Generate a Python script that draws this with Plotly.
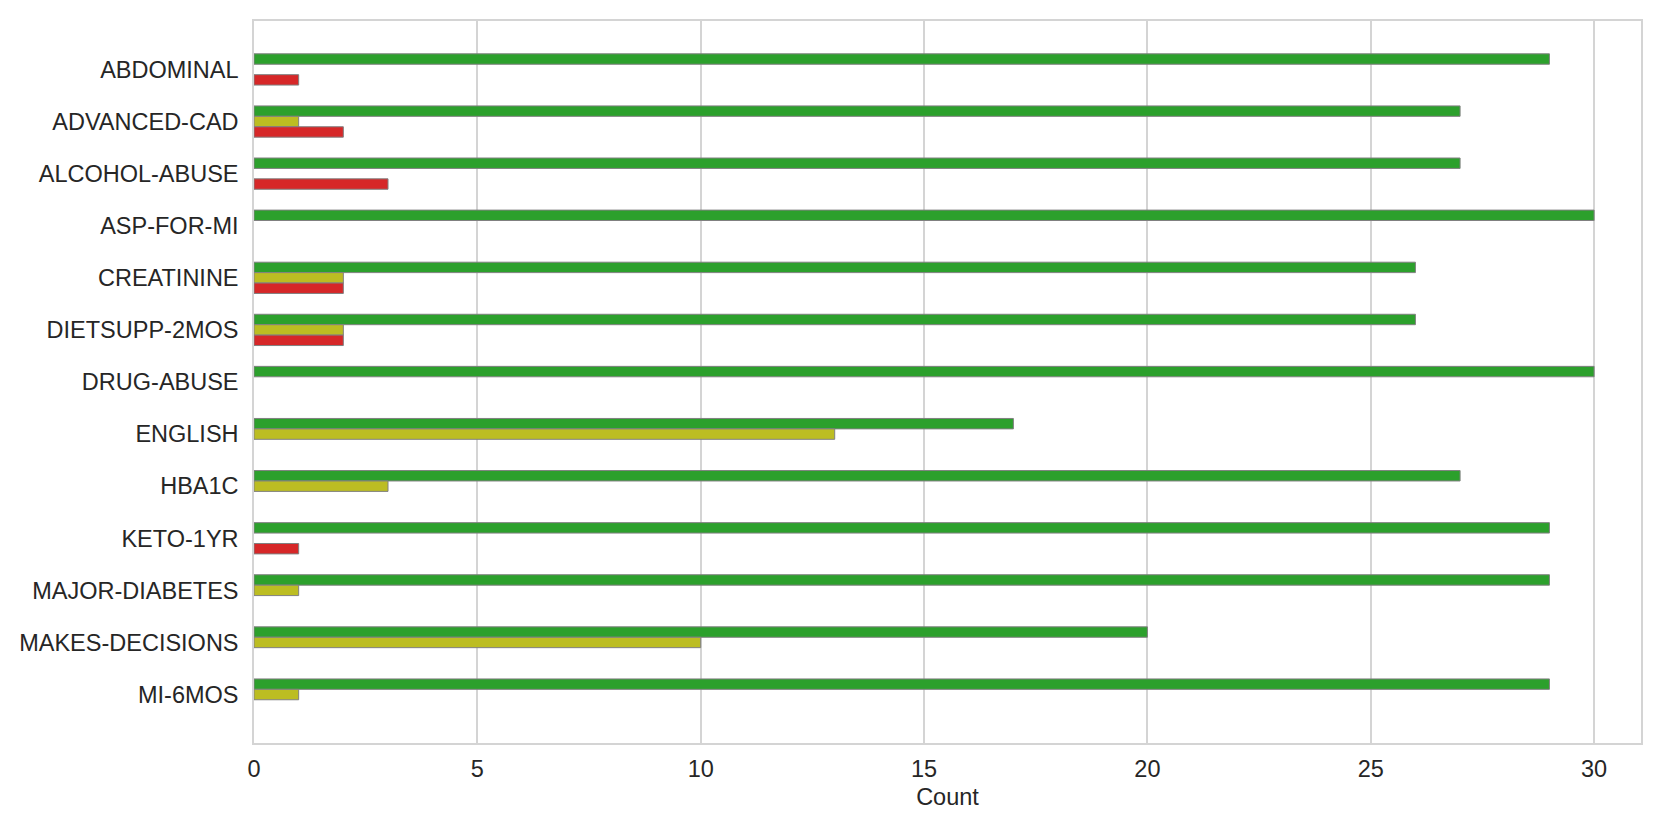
import plotly.graph_objects as go

# data
categories = ["ABDOMINAL", "ADVANCED-CAD", "ALCOHOL-ABUSE", "ASP-FOR-MI", "CREATININE",
              "DIETSUPP-2MOS", "DRUG-ABUSE", "ENGLISH", "HBA1C", "KETO-1YR",
              "MAJOR-DIABETES", "MAKES-DECISIONS", "MI-6MOS"]
green_vals = [29, 27, 27, 30, 26, 26, 30, 17, 27, 29, 29, 20, 29]
yellow_vals = [0, 1, 0, 0, 2, 2, 0, 13, 3, 0, 1, 10, 1]
red_vals = [1, 2, 3, 0, 2, 2, 0, 0, 0, 1, 0, 0, 0]

series = [
    ("green", green_vals, "#2ca02c"),
    ("yellow", yellow_vals, "#bcbd22"),
    ("red", red_vals, "#d62728"),
]

fig = go.Figure()
for name, vals, col in series:
    # no edge on empty bars (matplotlib draws nothing there)
    edge_w = [1 if v else 0 for v in vals]
    fig.add_trace(go.Bar(
        y=categories, x=vals, name=name, orientation="h",
        marker=dict(color=col, line=dict(color="#808080", width=edge_w)),
    ))

# page body has an 8px margin, so shift margins to compensate
fig.update_layout(
    width=1661, height=830,
    barmode="group", bargap=0.4, bargroupgap=0,
    showlegend=False,
    paper_bgcolor="white", plot_bgcolor="white",
    font=dict(family="Liberation Sans, Arial", size=23.5, color="#262626"),
    margin=dict(l=243, r=28, t=11, b=95),
)

fig.update_xaxes(
    range=[0, 31.05], tickvals=[0, 5, 10, 15, 20, 25, 30],
    showgrid=True, gridcolor="#d4d4d4", gridwidth=1.5,
    showline=True, linecolor="#d4d4d4", linewidth=1.5, mirror=True,
    zeroline=False, ticks="", ticklabelstandoff=4,
    title=dict(text="Count", font=dict(size=23.5), standoff=8),
)
fig.update_yaxes(
    range=[12.93, -0.93], showgrid=False,
    showline=True, linecolor="#d4d4d4", linewidth=1.5, mirror=True,
    ticks="", ticklabelstandoff=9,
)

fig.write_html("out.html")
